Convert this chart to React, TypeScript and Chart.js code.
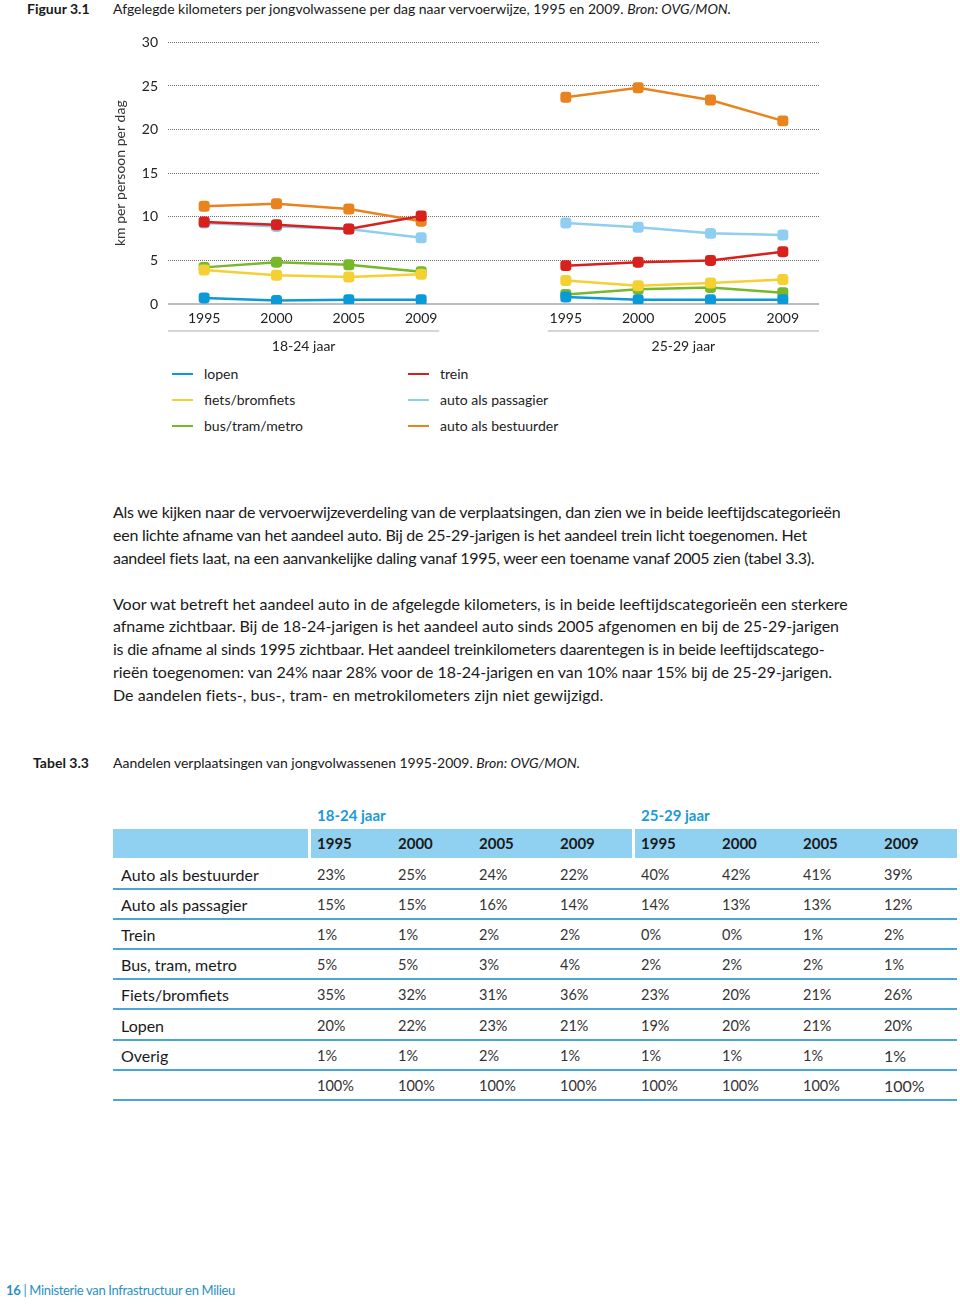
import React, { useEffect, useLayoutEffect, useRef } from "react";
import { Chart, registerables } from "chart.js";

Chart.register(...registerables);

const FONT = "Lato, 'Open Sans', sans-serif";

// ---------- chart data ----------
const categories = ["1995", "2000", "2005", "2009", "", "1995", "2000", "2005", "2009"];
const ageGroups = ["18-24 jaar", "25-29 jaar"];
const yTicks = [0, 5, 10, 15, 20, 25, 30];
const yTitle = "km per persoon per dag";
const seriesNames = ["lopen", "fiets/bromfiets", "bus/tram/metro", "trein", "auto als passagier", "auto als bestuurder"];
const seriesColors = ["#0b9ad8", "#f5d033", "#77b82b", "#d8211d", "#8fcef1", "#e8831d"];
const lopen = [0.7, 0.4, 0.5, 0.5, null, 0.8, 0.5, 0.5, 0.5];
const fiets = [3.9, 3.3, 3.1, 3.4, null, 2.7, 2.1, 2.4, 2.8];
const bus = [4.2, 4.8, 4.5, 3.7, null, 1.1, 1.7, 1.9, 1.3];
const trein = [9.4, 9.1, 8.6, 10.1, null, 4.4, 4.8, 5.0, 6.0];
const passagier = [9.3, 8.9, 8.6, 7.6, null, 9.3, 8.8, 8.1, 7.9];
const bestuurder = [11.2, 11.5, 10.9, 9.5, null, 23.7, 24.8, 23.4, 21.0];
const seriesData = [lopen, fiets, bus, trein, passagier, bestuurder];

// ---------- table data ----------
const tableGroups = ["18-24 jaar", "25-29 jaar"];
const tableYears = ["1995", "2000", "2005", "2009", "1995", "2000", "2005", "2009"];
const rowLabels = ["Auto als bestuurder", "Auto als passagier", "Trein", "Bus, tram, metro", "Fiets/bromfiets", "Lopen", "Overig", ""];
const rowAutoBestuurder = ["23%", "25%", "24%", "22%", "40%", "42%", "41%", "39%"];
const rowAutoPassagier = ["15%", "15%", "16%", "14%", "14%", "13%", "13%", "12%"];
const rowTrein = ["1%", "1%", "2%", "2%", "0%", "0%", "1%", "2%"];
const rowBus = ["5%", "5%", "3%", "4%", "2%", "2%", "2%", "1%"];
const rowFiets = ["35%", "32%", "31%", "36%", "23%", "20%", "21%", "26%"];
const rowLopen = ["20%", "22%", "23%", "21%", "19%", "20%", "21%", "20%"];
const rowOverig = ["1%", "1%", "2%", "1%", "1%", "1%", "1%", "1%"];
const rowTotaal = ["100%", "100%", "100%", "100%", "100%", "100%", "100%", "100%"];
const tableRows = [rowAutoBestuurder, rowAutoPassagier, rowTrein, rowBus, rowFiets, rowLopen, rowOverig, rowTotaal];

// ---------- texts ----------
const para1 = [
  "Als we kijken naar de vervoerwijzeverdeling van de verplaatsingen, dan zien we in beide leeftijdscategorieën",
  "een lichte afname van het aandeel auto. Bij de 25-29-jarigen is het aandeel trein licht toegenomen. Het",
  "aandeel fiets laat, na een aanvankelijke daling vanaf 1995, weer een toename vanaf 2005 zien (tabel 3.3).",
];
const para1Ends = [840, 807, 814];
const para2 = [
  "Voor wat betreft het aandeel auto in de afgelegde kilometers, is in beide leeftijdscategorieën een sterkere",
  "afname zichtbaar. Bij de 18-24-jarigen is het aandeel auto sinds 2005 afgenomen en bij de 25-29-jarigen",
  "is die afname al sinds 1995 zichtbaar. Het aandeel treinkilometers daarentegen is in beide leeftijdscatego-",
  "rieën toegenomen: van 24% naar 28% voor de 18-24-jarigen en van 10% naar 15% bij de 25-29-jarigen.",
  "De aandelen fiets-, bus-, tram- en metrokilometers zijn niet gewijzigd.",
];
const para2Ends = [847, 839, 824, 832, 603];

function LineChart() {
  const ref = useRef<HTMLCanvasElement>(null);
  useEffect(() => {
    const groupPlugin = {
      id: "ageGroups",
      afterDraw(chart: any) {
        const { ctx, chartArea } = chart;
        const xs = chart.scales.x;
        const step = xs.getPixelForValue(1) - xs.getPixelForValue(0);
        const gap = xs.getPixelForValue(4);
        const segs = [
          [chartArea.left, gap - 0.75 * step],
          [gap + 0.75 * step, chartArea.right],
        ];
        const sepY = chartArea.bottom + 27;
        const labY = chartArea.bottom + 42;
        ctx.save();
        segs.forEach(([a, b], i) => {
          ctx.strokeStyle = "#c8c8c8";
          ctx.lineWidth = 1.5;
          ctx.beginPath();
          ctx.moveTo(a, sepY);
          ctx.lineTo(b, sepY);
          ctx.stroke();
          ctx.fillStyle = "#222";
          ctx.font = `14px ${FONT}`;
          ctx.textAlign = "center";
          ctx.textBaseline = "middle";
          ctx.fillText(ageGroups[i], (a + b) / 2, labY);
        });
        ctx.restore();
      },
    };
    const chart = new Chart(ref.current as HTMLCanvasElement, {
      type: "line",
      data: {
        labels: categories,
        datasets: seriesNames.map((name, i) => ({
          label: name,
          data: seriesData[i],
          borderColor: seriesColors[i],
          backgroundColor: seriesColors[i],
          borderWidth: 2.5,
          pointStyle: "rectRounded",
          pointRadius: 6.4,
          pointBorderWidth: 0,
          pointBackgroundColor: seriesColors[i],
          spanGaps: false,
          tension: 0,
        })),
      },
      options: {
        animation: false,
        responsive: false,
        layout: { padding: { top: 0, right: 11, bottom: 0, left: 0 } },
        plugins: { legend: { display: false }, tooltip: { enabled: false } },
        scales: {
          x: {
            type: "category",
            offset: true,
            grid: { display: false },
            border: { display: false },
            ticks: { color: "#222", font: { family: FONT, size: 14 }, padding: -2, maxRotation: 0, autoSkip: false },
            afterFit: (s: any) => {
              s.height = 56;
            },
          },
          y: {
            min: 0,
            max: 30,
            afterBuildTicks: (s: any) => {
              s.ticks = yTicks.map((v) => ({ value: v }));
            },
            ticks: { color: "#222", font: { family: FONT, size: 14 }, padding: 10 },
            grid: {
              drawTicks: false,
              color: (c: any) => (c.tick && c.tick.value === 0 ? "#bdbdbd" : "#6f6f6f"),
              lineWidth: (c: any) => (c.tick && c.tick.value === 0 ? 2 : 1),
            },
            border: {
              display: false,
              dash: (c: any) => (c.tick && c.tick.value === 0 ? [] : [1, 1]),
            },
            title: {
              display: true,
              text: yTitle,
              color: "#333",
              font: { family: FONT, size: 14 },
              padding: { top: 12, bottom: 0 },
            },
            afterFit: (s: any) => {
              s.width = 68;
            },
          },
        },
      },
      plugins: [groupPlugin],
    } as any);
    return () => chart.destroy();
  }, []);
  return (
    <canvas
      ref={ref}
      width={730}
      height={336}
      style={{ position: "absolute", left: 100, top: 24, width: 730, height: 336, display: "block" }}
    />
  );
}

const abs = (left: number, cy: number, lh = 20): React.CSSProperties => ({
  position: "absolute",
  left,
  top: cy - lh / 2,
  lineHeight: `${lh}px`,
  whiteSpace: "nowrap",
});

export default function App() {
  const rootRef = useRef<HTMLDivElement>(null);

  useLayoutEffect(() => {
    const fit = () => {
      const root = rootRef.current;
      if (!root) return;
      root.querySelectorAll<HTMLElement>("[data-end]").forEach((el) => {
        el.style.letterSpacing = "0px";
        const target = parseFloat(el.dataset.end || "0") - el.getBoundingClientRect().left;
        const w = el.getBoundingClientRect().width;
        const n = (el.textContent || "").length;
        if (n > 1) el.style.letterSpacing = `${(target - w) / n}px`;
      });
    };
    fit();
    if ((document as any).fonts && (document as any).fonts.ready) (document as any).fonts.ready.then(fit);
  }, []);

  const legendCols = [
    [0, 1, 2],
    [3, 4, 5],
  ];
  const legendX = [172, 408];
  const legendY = [374, 400, 426];

  const colX = [317, 398, 479, 560, 641, 722, 803, 884];

  return (
    <div
      ref={rootRef}
      style={{
        position: "absolute",
        left: 0,
        top: 0,
        width: 960,
        height: 1304,
        background: "#fff",
        fontFamily: FONT,
        color: "#1a1a1a",
        overflow: "hidden",
      }}
    >
      {/* figure caption */}
      <div style={{ ...abs(27, 9), fontSize: 14, fontWeight: 700 }}>Figuur 3.1</div>
      <div style={{ ...abs(113, 9), fontSize: 14 }} data-end="731">
        Afgelegde kilometers per jongvolwassene per dag naar vervoerwijze, 1995 en 2009.{" "}
        <i>Bron: OVG/MON.</i>
      </div>

      <LineChart />

      {/* legend */}
      {legendCols.map((col, ci) =>
        col.map((si, ri) => (
          <div key={si}>
            <div
              style={{
                position: "absolute",
                left: legendX[ci],
                top: legendY[ri] - 1.25,
                width: 21,
                height: 2.5,
                background: seriesColors[si],
              }}
            />
            <div style={{ ...abs(legendX[ci] + 32, legendY[ri]), fontSize: 14, color: "#222" }}>{seriesNames[si]}</div>
          </div>
        ))
      )}

      {/* paragraphs */}
      {para1.map((t, i) => (
        <div key={"p1" + i} style={{ ...abs(113, 511 + 23 * i, 23), fontSize: 16 }} data-end={para1Ends[i]}>
          {t}
        </div>
      ))}
      {para2.map((t, i) => (
        <div key={"p2" + i} style={{ ...abs(113, 603 + 22.8 * i, 23), fontSize: 16 }} data-end={para2Ends[i]}>
          {t}
        </div>
      ))}

      {/* table caption */}
      <div style={{ ...abs(33, 763), fontSize: 14, fontWeight: 700 }}>Tabel 3.3</div>
      <div style={{ ...abs(113, 763), fontSize: 14 }} data-end="580">
        Aandelen verplaatsingen van jongvolwassenen 1995-2009. <i>Bron: OVG/MON.</i>
      </div>

      {/* table */}
      {tableGroups.map((g, i) => (
        <div key={g} style={{ ...abs(colX[i * 4], 815), fontSize: 15, fontWeight: 700, color: "#1b9ad6" }}>
          {g}
        </div>
      ))}
      <div style={{ position: "absolute", left: 113, top: 829, width: 844, height: 29, background: "#90d0f1" }} />
      <div style={{ position: "absolute", left: 308, top: 829, width: 3, height: 29, background: "#fff" }} />
      <div style={{ position: "absolute", left: 632, top: 829, width: 3, height: 29, background: "#fff" }} />
      {tableYears.map((y, i) => (
        <div key={"y" + i} style={{ ...abs(colX[i], 843), fontSize: 15, fontWeight: 700, color: "#1a1a1a" }}>
          {y}
        </div>
      ))}
      {tableRows.map((row, r) => (
        <div key={"r" + r}>
          <div style={{ ...abs(121, 875 + 30.1 * r), fontSize: 16, color: "#1a1a1a" }}>{rowLabels[r]}</div>
          {row.map((v, c) => (
            <div
              key={c}
              style={{
                ...abs(colX[c], 875 + 30.1 * r),
                fontSize: c === 7 && r >= 6 ? 16 : 14.5,
                color: "#333",
              }}
            >
              {v}
            </div>
          ))}
          <div
            style={{
              position: "absolute",
              left: 113,
              top: 888 + 30.1 * r,
              width: 844,
              height: 2,
              background: "#48a7d6",
            }}
          />
        </div>
      ))}

      {/* footer */}
      <div style={{ ...abs(6, 1290), fontSize: 13, color: "#2a8fc6" }} data-end="235">
        <b>16</b> | Ministerie van Infrastructuur en Milieu
      </div>
    </div>
  );
}
